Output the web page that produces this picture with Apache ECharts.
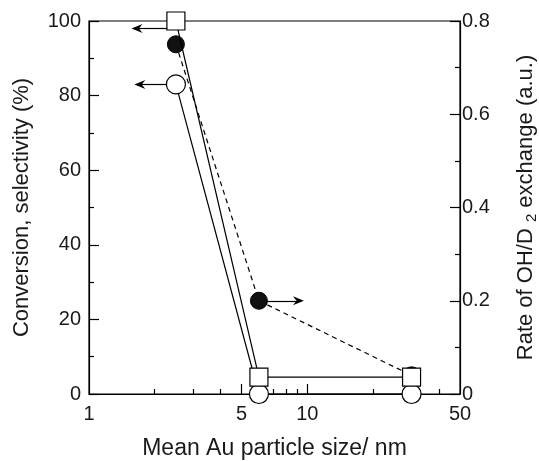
<!DOCTYPE html>
<html>
<head>
<meta charset="utf-8">
<script src="https://cdn.jsdelivr.net/npm/echarts@6/dist/echarts.min.js"></script>
<style>
  html,body{margin:0;padding:0;background:#fff;}
  #main{width:539px;height:461px;}
</style>
</head>
<body>
<div id="main"></div>
<script>
// particle size (nm)
var sizes = [2.5, 6, 30];
// left axis, %
var conversion = [100, 4.5, 4.5];      // open squares
var selectivity = [83, 0, 0];          // open circles
// right axis, a.u.
var exchangeRate = [0.75, 0.2, 0.04];  // filled circles

var xLabelValues = [1, 5, 10, 50];
var xMajorTicks = [5, 10];
var xMinorTicks = [2, 3, 4, 6, 7, 8, 9, 20, 30, 40];

// arrows pointing to the axis each series belongs to: [fromX, toX, y]
var arrowConv = [2.28, 1.66, 98];
var arrowSel = [2.28, 1.71, 83];
var arrowRate = [6.57, 9.1, 0.2];

var font = 'Liberation Sans, Arial, sans-serif';
var ink = '#1a1a1a';

function pairs(xs, ys) {
    return xs.map(function (x, i) { return [x, ys[i]]; });
}

function arrow(a) {
    return {
        silent: true,
        symbol: ['none', 'path://M0,0L6,12L0,8L-6,12Z'],
        symbolSize: [9, 11],
        label: {show: false},
        lineStyle: {color: '#000', width: 1.2, type: 'solid'},
        data: [[{coord: [a[0], a[2]]}, {coord: [a[1], a[2]]}]]
    };
}

var myChart = echarts.init(document.getElementById('main'), null, {renderer: 'canvas'});

var option = {
    animation: false,
    grid: {
        left: 89, right: 79, top: 21, bottom: 67,
        outerBoundsMode: 'none',
        show: true, borderColor: '#000', borderWidth: 1.2, backgroundColor: 'transparent'
    },
    xAxis: [
        {
            type: 'log', logBase: 10, min: 1, max: 50,
            name: 'Mean Au particle size/ nm',
            nameLocation: 'middle', nameGap: 43,
            nameTextStyle: {fontFamily: font, fontSize: 23, color: ink},
            axisLine: {lineStyle: {color: '#000', width: 1.2}},
            axisTick: {show: true, inside: true, length: 10, customValues: xMajorTicks, lineStyle: {color: '#000', width: 1.2}},
            axisLabel: {customValues: xLabelValues, fontFamily: font, fontSize: 20, color: ink, margin: 10},
            splitLine: {show: false}
        },
        {
            type: 'log', logBase: 10, min: 1, max: 50,
            position: 'bottom',
            axisLine: {show: false},
            axisTick: {show: true, inside: true, length: 5, customValues: xMinorTicks, lineStyle: {color: '#000', width: 1.2}},
            axisLabel: {show: false},
            splitLine: {show: false}
        }
    ],
    yAxis: [
        {
            type: 'value', min: 0, max: 100, interval: 20,
            name: 'Conversion, selectivity (%)',
            nameLocation: 'middle', nameGap: 56, nameRotate: 90,
            nameTextStyle: {fontFamily: font, fontSize: 22, color: ink},
            axisLine: {show: true, lineStyle: {color: '#000', width: 1.2}},
            axisTick: {show: true, inside: true, length: 10, lineStyle: {color: '#000', width: 1.2}},
            minorTick: {show: true, splitNumber: 2, length: 5, lineStyle: {color: '#000', width: 1.2}},
            axisLabel: {fontFamily: font, fontSize: 20, color: ink, margin: 8},
            splitLine: {show: false}
        },
        {
            type: 'value', min: 0, max: 0.8, interval: 0.2,
            position: 'right',
            name: 'Rate of OH/D {s|2} exchange (a.u.)',
            nameLocation: 'middle', nameGap: 52, nameRotate: 90,
            nameTextStyle: {
                fontFamily: font, fontSize: 22, color: ink,
                rich: {s: {fontFamily: font, fontSize: 15, color: ink, padding: [12, 0, 0, 0]}}
            },
            axisLine: {show: true, lineStyle: {color: '#000', width: 1.2}},
            axisTick: {show: true, inside: true, length: 10, lineStyle: {color: '#000', width: 1.2}},
            minorTick: {show: true, splitNumber: 2, length: 5, lineStyle: {color: '#000', width: 1.2}},
            axisLabel: {fontFamily: font, fontSize: 20, color: ink, margin: 2},
            splitLine: {show: false}
        }
    ],
    series: [
        {
            name: 'rate',
            type: 'line',
            yAxisIndex: 1,
            data: pairs(sizes, exchangeRate),
            symbol: 'circle', symbolSize: 17,
            clip: false,
            z: 2,
            lineStyle: {color: '#000', width: 1.2, type: [5, 4]},
            itemStyle: {color: '#111', borderColor: '#000', borderWidth: 1},
            markLine: arrow(arrowRate)
        },
        {
            name: 'selectivity',
            type: 'line',
            data: pairs(sizes, selectivity),
            symbol: 'circle', symbolSize: 19,
            clip: false,
            z: 3,
            lineStyle: {color: '#000', width: 1.2},
            itemStyle: {color: '#fff', borderColor: '#000', borderWidth: 1.2},
            markLine: arrow(arrowSel)
        },
        {
            name: 'conversion',
            type: 'line',
            data: pairs(sizes, conversion),
            symbol: 'rect', symbolSize: 18,
            clip: false,
            z: 4,
            lineStyle: {color: '#000', width: 1.2},
            itemStyle: {color: '#fff', borderColor: '#000', borderWidth: 1.2},
            markLine: arrow(arrowConv)
        }
    ]
};

myChart.setOption(option);
</script>
</body>
</html>
